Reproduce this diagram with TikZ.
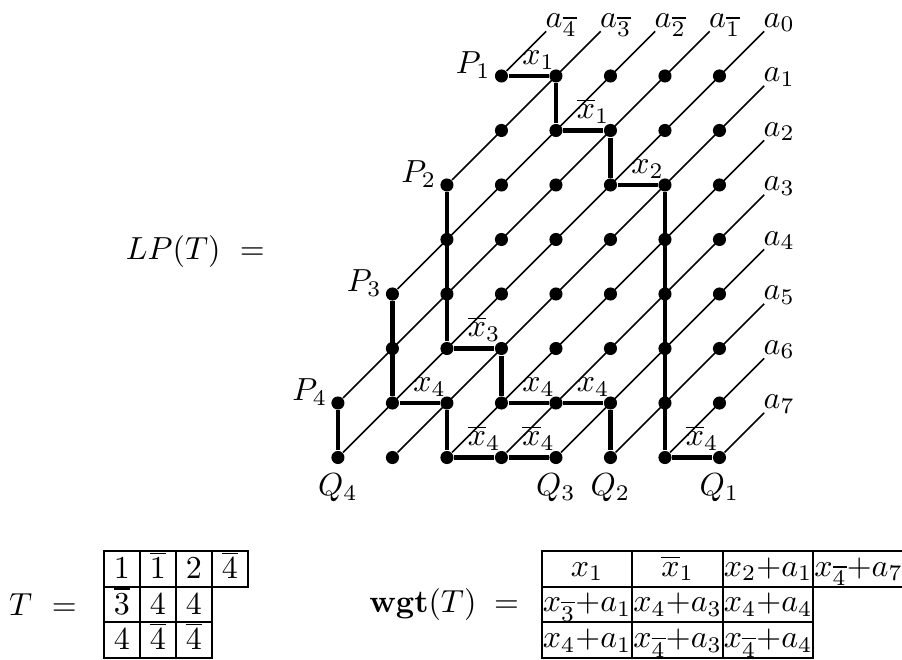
\documentclass[tikz,border=0pt]{standalone}
\usepackage{tikz}
\usetikzlibrary{positioning}

\begin{document}
\begin{tikzpicture}[
    x=6mm, y=6mm,
    dot/.style={circle, fill, inner sep=0pt, minimum size=4.1pt},
    wire/.style={line width=0.5pt},
    route/.style={line width=1.3pt},
    wlab/.style={above, pos=0.75, inner sep=1.5pt},
    alab/.style={anchor=base west, inner sep=0pt, yshift=1.3pt, xshift=-0.4pt},
    plab/.style={inner sep=0pt},
    tcell/.style={
        draw, line width=0.6pt, inner sep=0pt,
        minimum width=3.96mm, minimum height=3.92mm,
        text height=7pt, text depth=1pt
    },
    wcell/.style={
        tcell, minimum width=9.96mm,
        text height=6pt, text depth=1.5pt, font={\medmuskip=0mu}
    },
]
    \useasboundingbox (-6.2,1.394) rectangle (10.349,-10.697);

    % Gitterpunkte
    \foreach \j/\s in {0/3,1/3,2/2,3/2,4/1,5/1,6/0,7/0}
        \foreach \i in {\s,...,7}
            \node[dot] (d-\i-\j) at (\i,-\j) {};

    % Diagonalen nach oben
    \foreach \s/\r/\k/\lab in {3/0/3/\overline{4}, 2/2/4/\overline{3},
            1/4/5/\overline{2}, 0/6/6/\overline{1}, 0/7/7/0} {
        \coordinate (e-\k) at (\k+0.82,0.82);
        \draw[wire] (d-\s-\r) -- (e-\k) node[alab] (a-\k) {$a_{\lab}$};
    }
    % Diagonalen nach rechts
    \foreach \c in {1,...,7} {
        \coordinate (f-\c) at (7.82,-\c+0.82);
        \draw[wire] (d-\c-7) -- (f-\c) node[alab] (b-\c) {$a_{\c}$};
    }

    % Pfade P_i -> Q_i
    \draw[route] (d-3-0) -- node[wlab] (u1) {$x_1$} (d-4-0) -- (d-4-1)
        -- node[wlab] (u2) {$\overline{x}_1$} (d-5-1) -- (d-5-2)
        -- node[wlab] (u3) {$x_2$} (d-6-2) -- (d-6-7)
        -- node[wlab] (u4) {$\overline{x}_4$} (d-7-7);
    \draw[route] (d-2-2) -- (d-2-5)
        -- node[wlab] (v1) {$\overline{x}_3$} (d-3-5) -- (d-3-6)
        -- node[wlab] (v2) {$x_4$} (d-4-6)
        -- node[wlab] (v3) {$x_4$} (d-5-6) -- (d-5-7);
    \draw[route] (d-1-4) -- (d-1-6)
        -- node[wlab] (s1) {$x_4$} (d-2-6) -- (d-2-7)
        -- node[wlab] (s2) {$\overline{x}_4$} (d-3-7)
        -- node[wlab] (s3) {$\overline{x}_4$} (d-4-7);
    \draw[route] (d-0-6) -- (d-0-7);

    \node[plab, above left=-0.3mm and 1.1mm of d-3-0.center] (P1) {$P_1$};
    \node[plab, above left=-0.3mm and 1.1mm of d-2-2.center] (P2) {$P_2$};
    \node[plab, above left=-0.3mm and 1.1mm of d-1-4.center] (P3) {$P_3$};
    \node[plab, above left=-0.3mm and 1.1mm of d-0-6.center] (P4) {$P_4$};
    \node[plab, below=1.7mm of d-7-7.center] (Q1) {$Q_1$};
    \node[plab, below=1.7mm of d-5-7.center] (Q2) {$Q_2$};
    \node[plab, below=1.7mm of d-4-7.center] (Q3) {$Q_3$};
    \node[plab, below=1.7mm of d-0-7.center] (Q4) {$Q_4$};

    \node (lp) at (-2.615,-3.229) {$LP(T)\ =$};
    \node (tt) at (-5.413,-9.696) {$T\ =$};
    \node (wt) at (1.95,-9.696) {$\mathbf{wgt}(T)\;=$};

    % Tableau T
    \foreach \v [count=\c] in {1,\overline{1},2,\overline{4}}
        \node[tcell] (t-1-\c) at ({-3.964+0.66*(\c-1)},-9.043) {$\v$};
    \foreach \v [count=\c] in {\overline{3},4,4}
        \node[tcell] (t-2-\c) at ({-3.964+0.66*(\c-1)},-9.696) {$\v$};
    \foreach \v [count=\c] in {4,\overline{4},\overline{4}}
        \node[tcell] (t-3-\c) at ({-3.964+0.66*(\c-1)},-10.349) {$\v$};

    % Gewichte
    \foreach \v [count=\c] in {x_1,\overline{x}_1,x_2+a_1,x_{\overline{4}}+a_7}
        \node[wcell] (w-1-\c) at ({4.573+1.66*(\c-1)},-9.043) {$\v$};
    \foreach \v [count=\c] in {x_{\overline{3}}+a_1,x_4+a_3,x_4+a_4}
        \node[wcell] (w-2-\c) at ({4.573+1.66*(\c-1)},-9.696) {$\v$};
    \foreach \v [count=\c] in {x_4+a_1,x_{\overline{4}}+a_3,x_{\overline{4}}+a_4}
        \node[wcell] (w-3-\c) at ({4.573+1.66*(\c-1)},-10.349) {$\v$};

\end{tikzpicture}
\end{document}
